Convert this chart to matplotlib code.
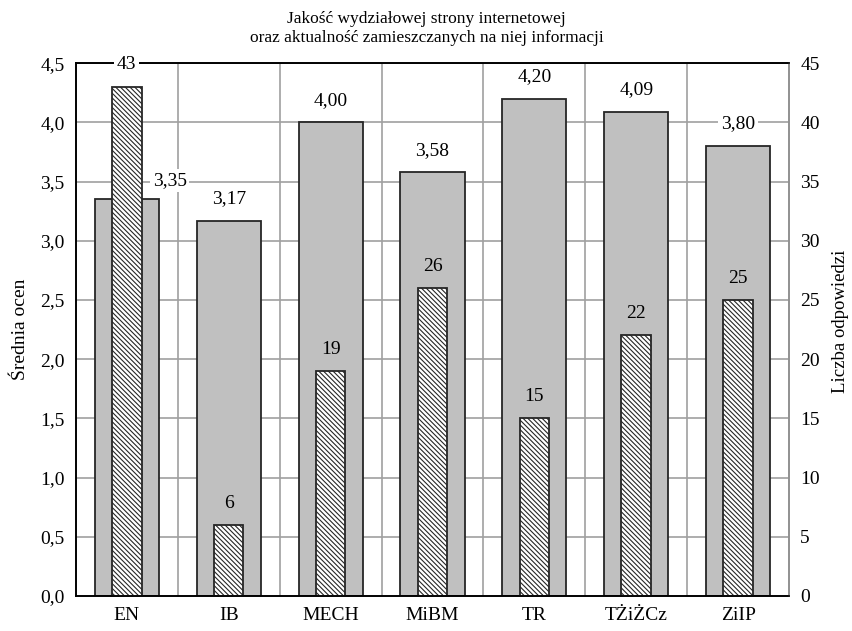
import matplotlib
matplotlib.use("Agg")
import matplotlib.pyplot as plt
import numpy as np

categories = ["EN", "IB", "MECH", "MiBM", "TR", "TŻiŻCz", "ZiIP"]
mean_scores = [3.35, 3.17, 4.00, 3.58, 4.20, 4.09, 3.80]
responses = [43, 6, 19, 26, 15, 22, 25]

plt.rcParams['font.family'] = ['Liberation Serif', 'DejaVu Serif']
plt.rcParams['hatch.linewidth'] = 0.8

fig = plt.figure(figsize=(8.53, 6.31), dpi=100)
ax = fig.add_axes([0.089, 0.0555, 0.836, 0.8445])
ax2 = ax.twinx()

x = np.arange(len(categories))

# gray bars - mean scores (left axis)
ax.bar(x, mean_scores, width=0.63, color='#c0c0c0', edgecolor='#262626',
       linewidth=1.3, zorder=2)
# hatched bars - number of responses (right axis)
ax2.bar(x, responses, width=0.29, color='white', edgecolor='#262626',
        hatch='\\' * 7, linewidth=1.3, zorder=2)

ax.set_xlim(-0.5, len(categories) - 0.5)
ax.set_ylim(0, 4.5)
ax2.set_ylim(0, 45)

yt = np.arange(0, 4.51, 0.5)
ax.set_yticks(yt)
ax.set_yticklabels([f"{v:.1f}".replace('.', ',') for v in yt])
ax2.set_yticks(np.arange(0, 46, 5))
ax.set_xticks(x)
ax.set_xticklabels(categories)

# grid: horizontal at ticks, vertical between categories
for v in yt[1:]:
    ax.axhline(v, color='#a0a0a0', linewidth=1.2, zorder=0)
for b in np.arange(0.5, len(categories) - 0.5, 1):
    ax.axvline(b, color='#a0a0a0', linewidth=1.2, zorder=0)

for a in (ax, ax2):
    a.tick_params(length=0, labelsize=14, pad=8)
    a.spines['top'].set_color('black')
    a.spines['left'].set_color('black')
    a.spines['bottom'].set_color('black')
    a.spines['right'].set_color('#909090')
    for s in a.spines.values():
        s.set_linewidth(1.2)
ax.tick_params(axis='x', pad=8)

box = dict(facecolor='white', edgecolor='none', pad=2)
for i, (m, r) in enumerate(zip(mean_scores, responses)):
    dx, dy = 0.0, 0.185
    if i == 0:
        dx, dy = 0.42, 0.16
    ax2.text(i + dx, m + dy, f"{m:.2f}".replace('.', ','),
             transform=ax.transData, ha='center', va='center',
             fontsize=14, bbox=box, zorder=5, clip_on=False)
    rb = box if r / 10 > m else None
    ax2.text(i, r + 1.85, str(r), ha='center', va='center',
             fontsize=14, bbox=rb, zorder=5, clip_on=False)

ax.set_ylabel("Średnia ocen", fontsize=14, labelpad=8)
ax2.set_ylabel("Liczba odpowiedzi", fontsize=13.5, ha='center', va='center')
ax2.yaxis.set_label_coords(1.0715, 0.515)
fig.text(0.5, 0.955, "Jakość wydziałowej strony internetowej\n"
         "oraz aktualność zamieszczanych na niej informacji",
         ha='center', va='center', fontsize=12.5, linespacing=1.3)

fig.savefig("out.png", dpi=100)
